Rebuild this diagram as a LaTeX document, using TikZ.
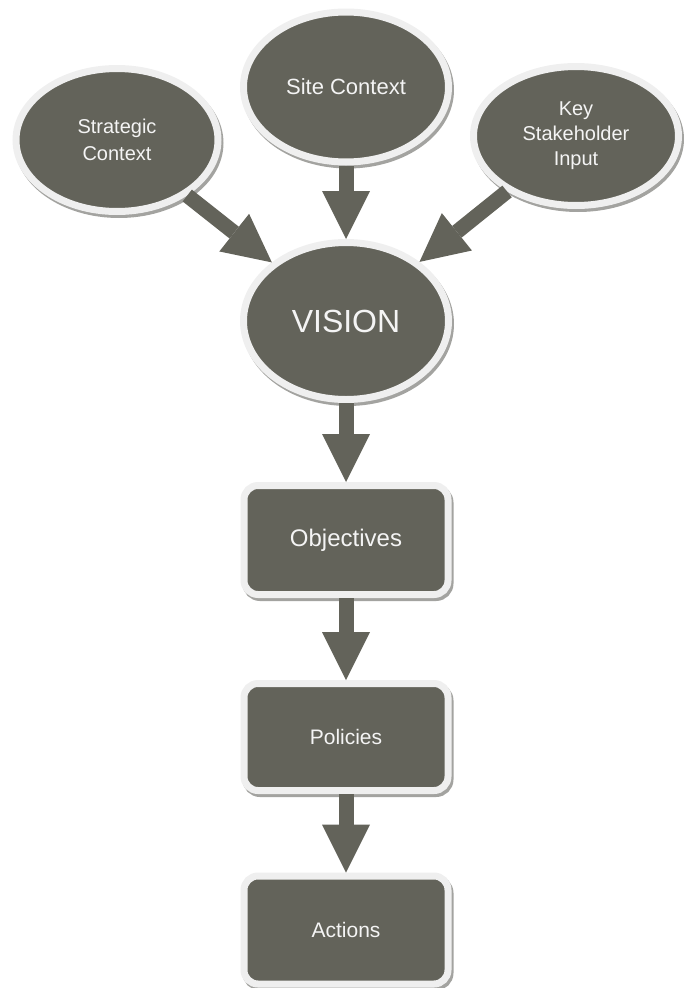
\documentclass[tikz,border=0pt]{standalone}
\usepackage{fontspec}
\setmainfont{Liberation Sans}
\usetikzlibrary{shapes.geometric,arrows.meta,shadows}
\definecolor{darkfill}{HTML}{63635A}
\definecolor{ringcol}{HTML}{EFEFEF}
\definecolor{shadowcol}{HTML}{A3A3A0}
\definecolor{textcol}{HTML}{F4F4F4}
\tikzset{
  ringshape/.style={fill=darkfill, draw=ringcol, line width=7pt, inner sep=0pt,
     text=textcol, align=center,
     drop shadow={shadow xshift=2pt, shadow yshift=-3pt, fill=shadowcol, draw=shadowcol, line width=7pt, opacity=1}},
  oval/.style={ringshape, ellipse},
  stepbox/.style={ringshape, rectangle, rounded corners=14pt},
  blockarrow/.style={draw=darkfill, line width=15pt,
     -{Triangle[width=48pt,length=48pt,line width=0pt]}},
}
\begin{document}
\begin{tikzpicture}[x=1pt,y=-1pt]
\useasboundingbox (0,0) rectangle (683,988);
% nodes
\node[oval, minimum width=202pt, minimum height=143pt, font=\fontsize{20}{27}\selectfont] (strat) at (117,140) {Strategic\\Context};
\node[oval, minimum width=205pt, minimum height=150pt, font=\fontsize{22}{27}\selectfont] (site) at (346,87) {Site Context};
\node[oval, minimum width=205pt, minimum height=139pt, font=\fontsize{20}{25}\selectfont] (key) at (576,136) {Key\\Stakeholder\\Input};
\node[oval, minimum width=205pt, minimum height=157pt, font=\fontsize{32}{38}\selectfont] (vision) at (346,321) {VISION};
\node[stepbox, minimum width=204pt, minimum height=109pt, font=\fontsize{24}{29}\selectfont] (obj) at (346,540) {Objectives};
\node[stepbox, minimum width=204pt, minimum height=107pt, font=\fontsize{21}{26}\selectfont] (pol) at (346,737) {Policies};
\node[stepbox, minimum width=204pt, minimum height=108pt, font=\fontsize{21}{26}\selectfont] (act) at (346,930) {Actions};
% connectors
\draw[blockarrow] (strat) -- (vision);
\draw[blockarrow] (site) -- (vision);
\draw[blockarrow] (key) -- (vision);
\draw[blockarrow] (vision) -- (obj);
\draw[blockarrow] (obj) -- (pol);
\draw[blockarrow] (pol) -- (act);
\end{tikzpicture}
\end{document}
